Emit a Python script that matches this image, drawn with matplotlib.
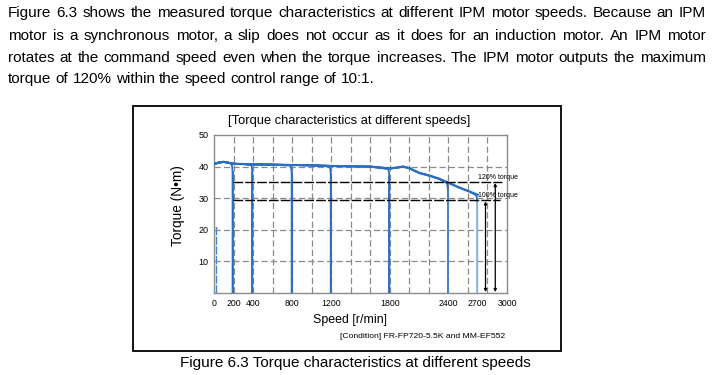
import matplotlib
matplotlib.use("Agg")
import matplotlib.pyplot as plt
from matplotlib.patches import Rectangle
import numpy as np

# ---------------- data ----------------
paragraph = [
    "Figure 6.3 shows the measured torque characteristics at different IPM motor speeds. Because an IPM",
    "motor is a synchronous motor, a slip does not occur as it does for an induction motor. An IPM motor",
    "rotates at the command speed even when the torque increases. The IPM motor outputs the maximum",
    "torque of 120% within the speed control range of 10:1.",
]
chart_title = "[Torque characteristics at different speeds]"
y_label = "Torque (N\u2022m)"
x_label = "Speed [r/min]"
condition = "[Condition] FR-FP720-5.5K and MM-EF552"
caption = "Figure 6.3 Torque characteristics at different speeds"

x_ticks = [0, 200, 400, 800, 1200, 1800, 2400, 2700, 3000]
y_ticks = [10, 20, 30, 40, 50]
y_tick_labels = ["10", "20", "30", "40", "50"]

# maximum-torque envelope (speed r/min, torque N.m)
env_speed = [0, 50, 100, 150, 200, 300, 400, 600, 800, 1000, 1200, 1400, 1600, 1800, 1880, 1935, 2000, 2100, 2200, 2300, 2400, 2500, 2600, 2700]
env_torque = [40.8, 41.3, 41.5, 41.2, 40.9, 40.8, 40.7, 40.6, 40.5, 40.4, 40.2, 40.1, 40.0, 39.4, 39.7, 40.0, 39.5, 38.0, 37.2, 36.2, 34.9, 33.5, 32.3, 31.1]

# command speeds of measured runs (r/min)
run_speeds = [190, 392, 795, 1195, 1795, 2395, 2695]
run_colors = ["#2a70c2", "#2a70c2", "#2a70c2", "#2a70c2", "#2a70c2", "#4a86cc", "#9dbde6"]
low_speed = 20
low_speed_torque = 21.5

torque_120 = 35.1
torque_100 = 29.3
ref_start = 190
ref_end_120 = 2950
ref_end_100 = 2930
arrow_100_speed = 2780
arrow_120_speed = 2880

# ---------------- figure ----------------
W, H = 726, 375
fig = plt.figure(figsize=(W / 100, H / 100), dpi=100)
fig.patch.set_facecolor("white")
FONT = "Liberation Sans"

def fx(px):
    return px / W

def fy(py):
    return 1 - py / H

# justified paragraph
renderer = fig.canvas.get_renderer()
line_y = [13, 36, 58, 79]
x_left, x_right = 8, 706
fs_par = 11.0
for i, line in enumerate(paragraph):
    words = line.split(" ")
    texts = [fig.text(0, fy(line_y[i]), w, fontsize=fs_par, family=FONT, va="center", ha="left") for w in words]
    widths = [t.get_window_extent(renderer).width for t in texts]
    sp = fig.text(0, 0, "a a", fontsize=fs_par, family=FONT)
    aa = fig.text(0, 0, "aa", fontsize=fs_par, family=FONT)
    natural_gap = sp.get_window_extent(renderer).width - aa.get_window_extent(renderer).width
    sp.remove(); aa.remove()
    if i < len(paragraph) - 1:
        gap = (x_right - x_left - sum(widths)) / (len(words) - 1)
    else:
        gap = natural_gap
    x = x_left
    for t, w in zip(texts, widths):
        t.set_x(fx(x))
        x += w + gap

# frame
fig.patches.append(Rectangle((fx(133), fy(351)), fx(561) - fx(133), fy(106) - fy(351),
                             transform=fig.transFigure, fill=False, edgecolor="black", linewidth=1.3))

# axes
ax = fig.add_axes([fx(214), fy(293), fx(507) - fx(214), fy(135) - fy(293)])
ax.set_xlim(0, 3000)
ax.set_ylim(0, 50)
for s in ax.spines.values():
    s.set_color("#8a8a8a")
    s.set_linewidth(1.0)
ax.set_xticks(x_ticks)
ax.set_xticklabels([str(v) for v in x_ticks], fontsize=6.3, family=FONT)
ax.set_yticks(y_ticks)
ax.set_yticklabels(y_tick_labels, fontsize=6.5, family=FONT)
ax.tick_params(length=0, pad=4)
for v in range(200, 3000, 200):
    ax.axvline(v, color="#8a8a8a", lw=0.9, ls=(0, (5, 2.5)), zorder=1)
for v in [10, 20, 30, 40]:
    ax.axhline(v, color="#8a8a8a", lw=0.9, ls=(0, (5, 2.5)), zorder=1)

env_s = np.array(env_speed, dtype=float)
env_t = np.array(env_torque, dtype=float)

# runs: vertical rise at command speed, then along envelope back to zero speed
for s, c in zip(run_speeds, run_colors):
    tmax = np.interp(s, env_s, env_t)
    mask = env_s < s - 15
    xs = [s, s, s - 4, s - 12] + list(env_s[mask][::-1])
    ys = [0, tmax - 2.6, tmax - 1.0, tmax - 0.2] + list(env_t[mask][::-1])
    ax.plot(xs, ys, color="#2a70c2", lw=1.3, zorder=3, solid_joinstyle="round")
    ax.plot([s, s], [0, tmax - 2.6], color=c, lw=1.3, zorder=4)
ax.plot(env_s, env_t, color="#2a70c2", lw=1.6, zorder=3)
ax.plot([low_speed, low_speed], [0, low_speed_torque], color="#4a86cc", lw=1.0, ls=(0, (6, 1)), zorder=3)

# reference torque lines
ax.plot([ref_start, ref_end_120], [torque_120, torque_120], color="black", lw=1.0, ls=(0, (7, 1.5)), zorder=5, clip_on=False)
ax.plot([ref_start, ref_end_100], [torque_100, torque_100], color="black", lw=1.0, ls=(0, (7, 1.5)), zorder=5, clip_on=False)
for xs_, top in [(arrow_100_speed, torque_100), (arrow_120_speed, torque_120)]:
    ax.annotate("", xy=(xs_, 0.3), xytext=(xs_, top - 0.3),
                arrowprops=dict(arrowstyle="<|-|>", color="black", lw=0.9, mutation_scale=4, shrinkA=0, shrinkB=0),
                zorder=6)
ax.text(2702, 36.7, "120% torque", fontsize=5.0, family=FONT, va="center", ha="left", clip_on=False, zorder=7)
ax.text(2702, 31.0, "100% torque", fontsize=5.0, family=FONT, va="center", ha="left", clip_on=False, zorder=7)

# labels
fig.text(fx(349), fy(121), chart_title, fontsize=9.25, family=FONT, ha="center", va="center")
fig.text(fx(178), fy(206), y_label, fontsize=9.8, family=FONT, ha="center", va="center", rotation=90)
fig.text(fx(350), fy(320), x_label, fontsize=8.9, family=FONT, ha="center", va="center")
fig.text(fx(505), fy(337), condition, fontsize=6.1, family=FONT, ha="right", va="center")
fig.text(fx(355), fy(363), caption, fontsize=11.0, family=FONT, ha="center", va="center")

fig.savefig("out.png", dpi=100)
